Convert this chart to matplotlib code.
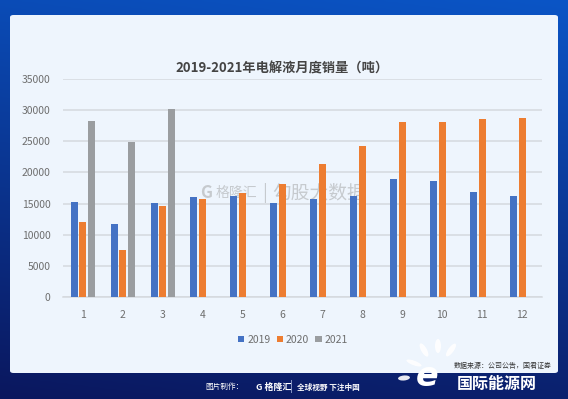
import matplotlib
matplotlib.use("Agg")
import matplotlib.pyplot as plt
import numpy as np
from matplotlib.patches import FancyBboxPatch, Rectangle, Ellipse

#============================DATA===================================
months = ["1", "2", "3", "4", "5", "6", "7", "8", "9", "10", "11", "12"]
sales_2019 = [15200, 11650, 15050, 16100, 16250, 15050, 15750, 16250, 18950, 18650, 16800, 16150]
sales_2020 = [12100, 7500, 14650, 15700, 16750, 18200, 21300, 24300, 28100, 28050, 28550, 28800]
sales_2021 = [28300, 24950, 30200]
years = ["2019", "2020", "2021"]
yticks = [0, 5000, 10000, 15000, 20000, 25000, 30000, 35000]

#============================STYLE==================================
plt.rcParams['font.family'] = ['Noto Sans CJK SC', 'DejaVu Sans']
c_blue, c_orange, c_gray = "#4472c4", "#ed7d31", "#9a9da0"
W, H = 568, 399

fig = plt.figure(figsize=(W / 100, H / 100), dpi=100)

# background gradient
bg = fig.add_axes([0, 0, 1, 1])
bg.set_zorder(-5)
yy, xx = np.mgrid[0:1:200j, 0:1:200j]
t = np.clip(0.85 * yy + 0.15 * xx, 0, 1)
top = np.array([0x0b, 0x55, 0xc6]) / 255
bot = np.array([0x0a, 0x17, 0x5e]) / 255
img = bot[None, None, :] * (1 - t[..., None]) + top[None, None, :] * t[..., None]
bg.imshow(img, origin="lower", extent=[0, 1, 0, 1], aspect="auto")
bg.set_xlim(0, 1); bg.set_ylim(0, 1); bg.axis("off")

# white panel
bg.add_patch(FancyBboxPatch((10 / W, 1 - 373 / H), 548 / W, 358 / H,
                            boxstyle="round,pad=0,rounding_size=0.006",
                            transform=bg.transAxes, fc="#eef5fd", ec="none", zorder=2))
bg.add_patch(Rectangle((16.5 / W, 1 - 345 / H), 0.8 / W, 293 / H,
                       transform=bg.transAxes, fc="#d4dae2", ec="none", zorder=3))

#============================CHART==================================
ax = fig.add_axes([63 / W, 1 - 297 / H, 479 / W, 218 / H])
ax.set_zorder(2)
ax.set_facecolor("none")
x = np.arange(len(months))
off, bw = 0.22, 0.175
ax.bar(x - off, sales_2019, bw, color=c_blue, label=years[0], zorder=3)
ax.bar(x, sales_2020, bw, color=c_orange, label=years[1], zorder=3)
ax.bar(x[:len(sales_2021)] + off, sales_2021, bw, color=c_gray, label=years[2], zorder=3)

ax.set_xlim(-0.5, len(months) - 0.5)
ax.set_ylim(0, 35000)
ax.set_yticks(yticks)
ax.set_yticklabels([str(v) for v in yticks])
ax.set_xticks(x)
ax.set_xticklabels(months)
ax.grid(axis="y", color="#d5d9de", lw=1.1, zorder=0)
for s in ["top", "right", "left"]:
    ax.spines[s].set_visible(False)
ax.spines["bottom"].set_color("#d5d9de")
ax.spines["bottom"].set_linewidth(1.1)
ax.tick_params(axis="both", length=0, colors="#6e6e6e", labelsize=7.5)
ax.tick_params(axis="x", pad=9)
ax.tick_params(axis="y", pad=9)

fig.text(282 / W, 1 - 68 / H, "2019-2021年电解液月度销量（吨）", fontsize=9.5,
         fontweight="bold", color="#444444", ha="center", va="center")

ax.legend(loc="upper center", bbox_to_anchor=(0.48, -0.13), ncol=3, frameon=False,
          fontsize=7.5, handlelength=0.6, handleheight=0.6, handletextpad=0.3,
          columnspacing=0.6, labelcolor="#6e6e6e")

# watermark (behind the bars)
wm = dict(transform=fig.transFigure, color="#c6cace", va="center", zorder=1)
ax.text(200 / W, 1 - 193 / H, "G", fontsize=12, fontweight="bold", **wm)
ax.text(216 / W, 1 - 193 / H, "格隆汇", fontsize=10, **wm)
ax.text(262 / W, 1 - 193 / H, "|", fontsize=13, **wm)
ax.text(272 / W, 1 - 193 / H, "勾股大数据", fontsize=13.5, **wm)

#============================FOOTER=================================
fig.text(205 / W, 1 - 387 / H, "图片制作：", fontsize=5.5, color="white", va="center")
fig.text(256 / W, 1 - 387 / H, "G 格隆汇", fontsize=6.5, color="white", va="center",
         fontweight="bold")
fig.add_artist(Rectangle((291 / W, 1 - 393 / H), 0.6 / W, 13 / H,
                         transform=fig.transFigure, fc="#8090c0", ec="none"))
fig.text(297 / W, 1 - 387 / H, "全球视野 下注中国", fontsize=5.5, color="white",
         va="center", fontweight="bold")
fig.text(552 / W, 1 - 366 / H, "数据来源：公司公告，国君证券", fontsize=5, color="#333333",
         ha="right", va="center", zorder=6)

# "国际能源网" logo
for cx, cy, w, h, a in [(424, 350, 6, 14, 20), (438, 346, 6, 14, 0), (451, 350, 6, 14, -25),
                        (414, 363, 6, 12, 60), (404, 378, 12, 5, 10)]:
    fig.add_artist(Ellipse((cx / W, 1 - cy / H), w / W, h / H, angle=a,
                           transform=fig.transFigure, fc="white", ec="none", alpha=0.9, zorder=7))
fig.text(427 / W, 1 - 376 / H, "e", fontsize=24, color="white", ha="center",
         va="center", fontweight="bold", style="italic", family="DejaVu Sans", zorder=7)
fig.text(497 / W, 1 - 384 / H, "国际能源网", fontsize=11.5, color="white", ha="center",
         va="center", fontweight="bold", zorder=7)

fig.savefig("out.png", dpi=100)
